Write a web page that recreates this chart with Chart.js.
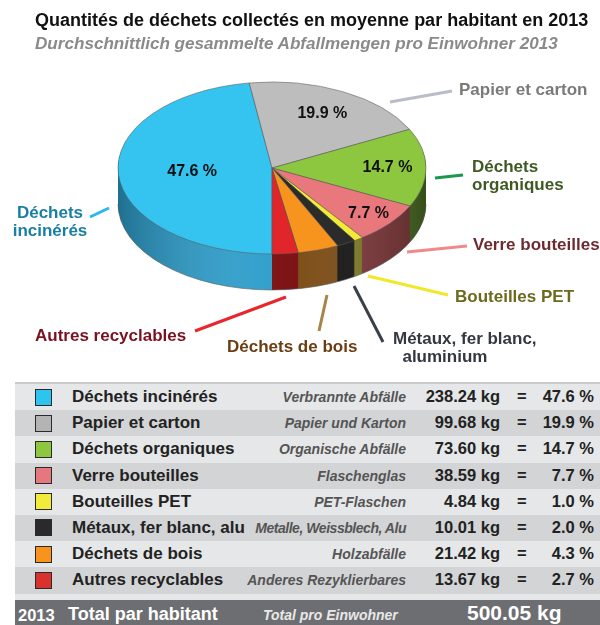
<!DOCTYPE html>
<html>
<head>
<meta charset="utf-8">
<script src="https://cdn.jsdelivr.net/npm/chart.js@4"></script>
<style>
  body { margin: 0; width: 600px; height: 625px; overflow: hidden; background: #fff; font-family: "Liberation Sans", Arial, sans-serif; }
  #wrap { position: relative; width: 600px; height: 625px; }
  #pie { position: absolute; left: 0; top: 0; }
  .txt { position: absolute; font-weight: bold; white-space: nowrap; line-height: 18px; }
  #title { left: 35px; top: 11px; font-size: 18px; color: #111; }
  #subtitle { left: 35px; top: 35px; font-size: 17.1px; font-style: italic; color: #8a8a8a; }
  .call { font-size: 17px; }
  #table { position: absolute; left: 15px; top: 382px; width: 585px; border-top: 2px solid #c9cacc; }
  .row { position: relative; height: 26.2px; }
  .sw { position: absolute; left: 20px; top: 4.5px; width: 15px; height: 15px; border: 1.5px solid #2a2a2a; }
  .fr { position: absolute; left: 57px; top: 3px; font-size: 17px; font-weight: bold; color: #222; white-space: nowrap; }
  .de { position: absolute; right: 194px; top: 5px; font-size: 14px; font-style: italic; font-weight: bold; color: #555; white-space: nowrap; }
  .kg { position: absolute; right: 100px; top: 3px; font-size: 16.5px; font-weight: bold; color: #222; }
  .eq { position: absolute; left: 502px; top: 3px; font-size: 16.5px; font-weight: bold; color: #222; }
  .pc { position: absolute; right: 6px; top: 3px; font-size: 16.5px; font-weight: bold; color: #222; }
  #gap { height: 6px; background: #e6e7e8; }
  #total { position: relative; height: 30px; background: #6d6e71; color: #fff; }
  #total span { position: absolute; top: 4px; font-weight: bold; white-space: nowrap; }
</style>
</head>
<body>
<div id="wrap">
  <canvas id="pie" width="600" height="380"></canvas>
  <div class="txt" id="title">Quantités de déchets collectés en moyenne par habitant en 2013</div>
  <div class="txt" id="subtitle">Durchschnittlich gesammelte Abfallmengen pro Einwohner 2013</div>
  <div id="callouts"></div>
  <div id="table"></div>
</div>
<script>
// data
const labelsFr = ['Déchets incinérés', 'Papier et carton', 'Déchets organiques', 'Verre bouteilles',
  'Bouteilles PET', 'Métaux, fer blanc, alu', 'Déchets de bois', 'Autres recyclables'];
const labelsDe = ['Verbrannte Abfälle', 'Papier und Karton', 'Organische Abfälle', 'Flaschenglas',
  'PET-Flaschen', 'Metalle, Weissblech, Alu', 'Holzabfälle', 'Anderes Rezyklierbares'];
const kgValues = [238.24, 99.68, 73.60, 38.59, 4.84, 10.01, 21.42, 13.67];
const percentValues = [47.6, 19.9, 14.7, 7.7, 1.0, 2.0, 4.3, 2.7];
const totalKg = 500.05;
const totalYear = '2013';

const topColors = ['#35c4f0', '#bdbdbd', '#8dc63f', '#e8787c', '#f2ea35', '#2b2b2b', '#f7941d', '#e0262b'];
const sideColors = ['#2a9cca', '#8a8a8a', '#4a6a22', '#7a3436', '#7d7a22', '#121212', '#7a4a12', '#780a0c'];
const swatchColors = ['#2ec4f0', '#b4b4b4', '#8dc63f', '#e5777f', '#f2eb3b', '#2a2a2a', '#f7941d', '#d8322e'];

// callout labels round the pie (text lines, colour, left, center y of first line, leader line)
const callouts = [
  { lines: ['Déchets', 'incinérés'], color: '#1a7fa3', x: 50, y: 213, center: true, line: [90, 217, 109, 208], lc: '#2ab8ea' },
  { lines: ['Papier et carton'], color: '#7a7a7a', x: 459, y: 90, line: [390, 102, 452, 91], lc: '#b9bdc9' },
  { lines: ['Déchets', 'organiques'], color: '#3e5a22', x: 472, y: 167, line: [435, 178, 463, 175], lc: '#1a9850' },
  { lines: ['Verre bouteilles'], color: '#6e2b2f', x: 473, y: 245, line: [407, 252, 467, 246], lc: '#f08a8a' },
  { lines: ['Bouteilles PET'], color: '#6b6a1e', x: 455, y: 297, line: [368, 276, 448, 295], lc: '#f2e82a' },
  { lines: ['Métaux, fer blanc,', '  aluminium'], color: '#333840', x: 393, y: 339, line: [354, 286, 383, 342], lc: '#3a4048' },
  { lines: ['Déchets de bois'], color: '#6b3d12', x: 227, y: 347, line: [327, 295, 319, 331], lc: '#a8844a' },
  { lines: ['Autres recyclables'], color: '#7a1020', x: 35, y: 336, line: [286, 297, 195, 331], lc: '#e8262e' }
];

const TOP_CY = 168;
const TILT = 86 / 154;
const DEPTH = 36;
const pctLabelRadius = [0.52, 0.71, 0.75, 0.82];

// build callout text
const calloutBox = document.getElementById('callouts');
callouts.forEach(c => {
  c.lines.forEach((t, j) => {
    const d = document.createElement('div');
    d.className = 'txt call';
    d.style.color = c.color;
    d.style.top = (c.y - 9 + j * 18) + 'px';
    d.style.whiteSpace = 'pre';
    if (c.center) {
      d.style.left = (c.x - 60) + 'px';
      d.style.width = '120px';
      d.style.textAlign = 'center';
    } else {
      d.style.left = c.x + 'px';
    }
    d.textContent = t;
    calloutBox.appendChild(d);
  });
});

// build table
const table = document.getElementById('table');
labelsFr.forEach((fr, i) => {
  const row = document.createElement('div');
  row.className = 'row';
  row.style.background = i % 2 ? '#d3d4d6' : '#e6e7e8';
  row.innerHTML = `
    <div class="sw" style="background:${swatchColors[i]}"></div>
    <div class="fr">${fr}</div>
    <div class="de">${labelsDe[i]}</div>
    <div class="kg">${kgValues[i].toFixed(2)} kg</div>
    <div class="eq">=</div>
    <div class="pc">${percentValues[i].toFixed(1)} %</div>`;
  table.appendChild(row);
  // squeeze the german text if it runs into the french one
  const frEl = row.querySelector('.fr');
  const deEl = row.querySelector('.de');
  const room = (585 - 194) - (frEl.offsetLeft + frEl.offsetWidth + 10);
  if (deEl.offsetWidth > room) {
    const n = labelsDe[i].length;
    deEl.style.letterSpacing = (-(deEl.offsetWidth - room) / n).toFixed(2) + 'px';
  }
});
const gap = document.createElement('div');
gap.id = 'gap';
table.appendChild(gap);
const total = document.createElement('div');
total.id = 'total';
total.innerHTML = `
  <span style="left:3px;top:6px;font-size:16.5px">${totalYear}</span>
  <span style="left:53px;top:4px;font-size:18px">Total par habitant</span>
  <span style="left:248px;top:7px;font-size:14px;font-style:italic;font-weight:bold;color:#e8e8e8">Total pro Einwohner</span>
  <span style="left:452px;top:1px;font-size:21px">${totalKg.toFixed(2)} kg</span>`;
table.appendChild(total);

// 3d look: sides under the slices, top face squashed into an ellipse
const pie3d = {
  id: 'pie3d',
  beforeDatasetsDraw(chart) {
    const ctx = chart.ctx;
    const arcs = chart.getDatasetMeta(0).data;
    const cx = arcs[0].x, cy = arcs[0].y, r = arcs[0].outerRadius;
    const shiftY = TOP_CY - cy * TILT;

    for (let off = DEPTH; off >= 1; off--) {
      ctx.save();
      ctx.translate(0, shiftY + off);
      ctx.scale(1, TILT);
      arcs.forEach((a, i) => {
        ctx.beginPath();
        ctx.moveTo(a.x, a.y);
        ctx.arc(a.x, a.y, a.outerRadius, a.startAngle, a.endAngle);
        ctx.closePath();
        ctx.fillStyle = sideColors[i];
        ctx.fill();
      });
      ctx.restore();
    }

    // shading of the side wall
    ctx.save();
    ctx.globalCompositeOperation = 'source-atop';
    const g = ctx.createLinearGradient(cx - r, 0, cx + r, 0);
    g.addColorStop(0, 'rgba(0,0,0,0.28)');
    g.addColorStop(0.45, 'rgba(255,255,255,0.06)');
    g.addColorStop(0.6, 'rgba(255,255,255,0.04)');
    g.addColorStop(1, 'rgba(0,0,0,0.25)');
    ctx.fillStyle = g;
    ctx.fillRect(0, 0, chart.width, chart.height);
    ctx.restore();

    // rim outline
    ctx.save();
    ctx.translate(0, shiftY + DEPTH);
    ctx.scale(1, TILT);
    ctx.beginPath();
    ctx.arc(cx, cy, r, 0, Math.PI);
    ctx.restore();
    ctx.strokeStyle = 'rgba(90,90,90,0.6)';
    ctx.lineWidth = 1;
    ctx.stroke();

    ctx.save();
    ctx.translate(0, shiftY);
    ctx.scale(1, TILT);
  },
  afterDatasetsDraw(chart) {
    const ctx = chart.ctx;
    ctx.restore();
    const arcs = chart.getDatasetMeta(0).data;
    ctx.save();
    ctx.font = 'bold 16px "Liberation Sans", Arial, sans-serif';
    ctx.fillStyle = '#111';
    ctx.textAlign = 'center';
    ctx.textBaseline = 'middle';
    arcs.forEach((a, i) => {
      if (i >= pctLabelRadius.length) return;
      const mid = (a.startAngle + a.endAngle) / 2;
      const rr = a.outerRadius * pctLabelRadius[i];
      const x = a.x + Math.cos(mid) * rr;
      const y = TOP_CY + Math.sin(mid) * rr * TILT;
      ctx.fillText(percentValues[i].toFixed(1) + ' %', x, y);
    });
    ctx.restore();
  },
  afterDraw(chart) {
    const ctx = chart.ctx;
    ctx.save();
    ctx.lineWidth = 3;
    callouts.forEach(c => {
      ctx.strokeStyle = c.lc;
      ctx.beginPath();
      ctx.moveTo(c.line[0], c.line[1]);
      ctx.lineTo(c.line[2], c.line[3]);
      ctx.stroke();
    });
    ctx.restore();
  }
};

new Chart(document.getElementById('pie'), {
  type: 'pie',
  data: {
    labels: labelsFr,
    datasets: [{
      data: kgValues,
      backgroundColor: topColors,
      borderColor: 'rgba(90,90,90,0.7)',
      borderWidth: 1
    }]
  },
  options: {
    responsive: false,
    animation: false,
    events: [],
    rotation: 180,
    radius: 154,
    layout: { padding: { left: 0, right: 56, top: 0, bottom: 0 } },
    plugins: { legend: { display: false }, tooltip: { enabled: false } }
  },
  plugins: [pie3d]
});
</script>
</body>
</html>
